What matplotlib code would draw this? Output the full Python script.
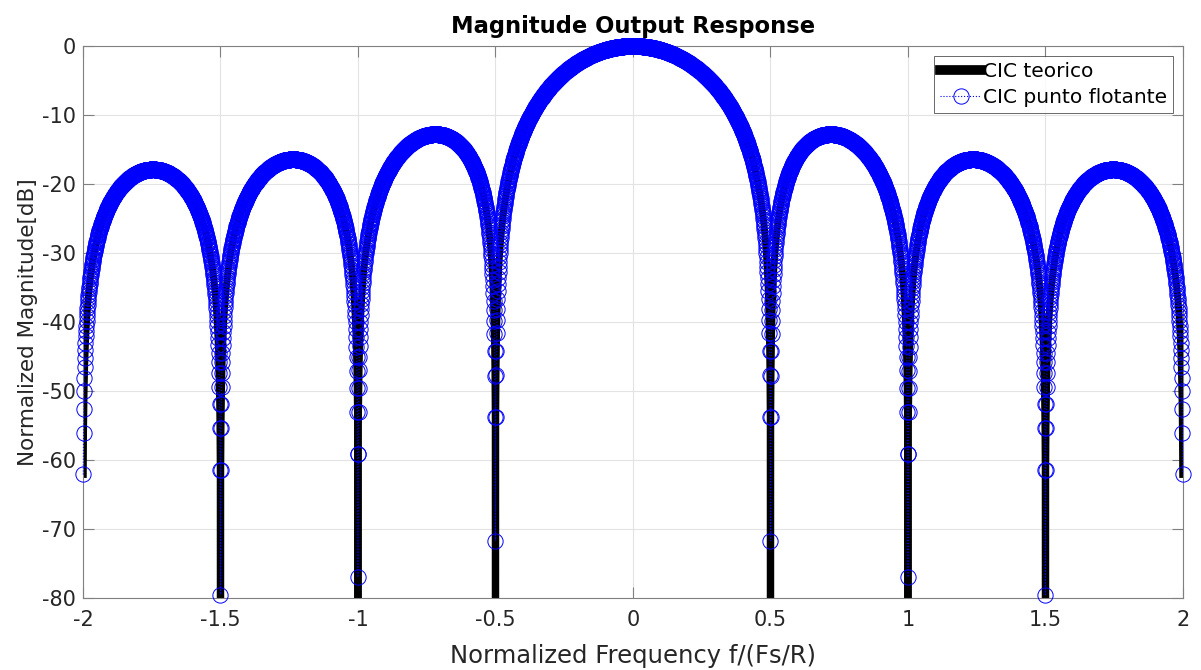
import numpy as np
import matplotlib.pyplot as plt

# CIC parameters: decimation R, differential delay M, stages N
R = 4
M = 2
N = 1

# normalized frequency grid f/(Fs/R), step 1e-3
freq = np.arange(-1999, 2000) / 1000.0

# residual floor of the floating point run at the notches (dB)
null_freq = [-1.5, -1.0, -0.5, 0.5, 1.0, 1.5]
null_floor_db = [-79.5, -77.0, -71.7, -71.7, -77.0, -79.5]

# theoretical response
H = np.abs(np.sinc(M * freq) / np.sinc(freq / R)) ** N
H_db = 20 * np.log10(H)

# floating point response: same curve, notches limited by numeric floor
Hf_db = H_db.copy()
for f0, v in zip(null_freq, null_floor_db):
    Hf_db[np.argmin(np.abs(freq - f0))] = v

plt.rcParams['font.family'] = ['DejaVu Sans']

fig = plt.figure(figsize=(12.01, 6.70), dpi=100)
ax = fig.add_axes([0.0691, 0.1075, 0.9159, 0.8239])

ax.plot(freq, H_db, color="black", linewidth=5, label="CIC teorico", zorder=2)
ax.plot(freq, Hf_db, color="blue", linestyle=":", linewidth=0.8,
        marker="o", markersize=11, markerfacecolor="none",
        markeredgewidth=0.7, label="CIC punto flotante", clip_on=False, zorder=3)

ax.set_xlim(-2, 2)
ax.set_ylim(-80, 0)
ax.set_xticks(np.arange(-2, 2.01, 0.5))
ax.set_xticklabels(["-2", "-1.5", "-1", "-0.5", "0", "0.5", "1", "1.5", "2"])
ax.set_yticks(np.arange(-80, 1, 10))
ax.set_yticklabels([str(v) for v in range(-80, 1, 10)])

ax.grid(True, color="#e3e3e3", linewidth=0.8)
ax.set_axisbelow(True)
ax.tick_params(direction="in", length=8, width=0.8, color="#808080",
               labelsize=15, labelcolor="#262626", top=True, right=True)
ax.tick_params(axis="x", pad=9)
ax.tick_params(axis="y", pad=5)
for s in ax.spines.values():
    s.set_color("#808080")
    s.set_linewidth(0.8)

ax.set_xlabel("Normalized Frequency f/(Fs/R)", fontsize=17.5, color="#262626", labelpad=10)
ax.set_ylabel("Normalized Magnitude[dB]", fontsize=15.5, color="#262626", labelpad=3)
ax.set_title("Magnitude Output Response", fontsize=16.3, fontweight="bold", pad=9)

leg = ax.legend(loc="upper right", fontsize=14.5, frameon=True, fancybox=False,
                borderpad=0.3, handlelength=2.0, handletextpad=0.1,
                labelspacing=0.35, borderaxespad=0.5)
leg.get_frame().set_edgecolor("#262626")
leg.get_frame().set_linewidth(0.6)
leg.get_lines()[0].set_linewidth(7)

fig.savefig("out.png", dpi=100)
